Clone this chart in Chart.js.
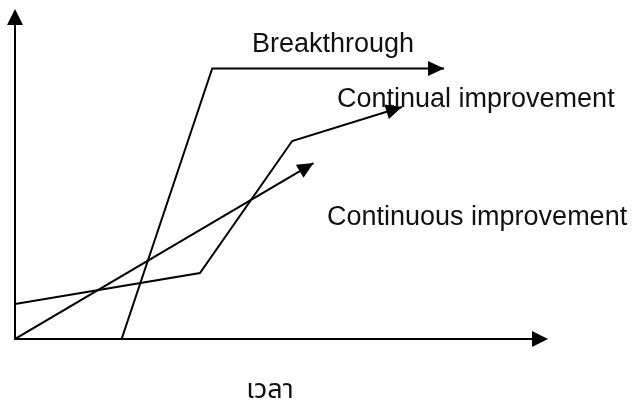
<!DOCTYPE html>
<html>
<head>
<meta charset="utf-8">
<script src="https://cdn.jsdelivr.net/npm/chart.js@4.4.0/dist/chart.umd.min.js"></script>
<style>
  html, body { margin: 0; padding: 0; background: #fff; }
  #wrap { width: 640px; height: 405px; }
</style>
</head>
<body>
<div id="wrap"><canvas id="diagram"></canvas></div>
<script>
// ===== DATA (axis units: 0..100 on both axes) =====
const breakthroughX = [20, 37, 80.5];
const breakthroughY = [0, 82, 82];
const continualX = [0, 34.7, 52, 72.6];
const continualY = [10.6, 20, 60, 70.3];
const continuousX = [0, 56];
const continuousY = [0, 53.3];
const seriesLabels = ['Breakthrough', 'Continual improvement', 'Continuous improvement'];
const axisTitle = 'เวลา';

function toPoints(xs, ys) {
  return xs.map((x, i) => ({ x: x, y: ys[i] }));
}

// ===== ARROWHEAD =====
function arrowHead(ctx, fx, fy, tx, ty, len, half) {
  const ang = Math.atan2(ty - fy, tx - fx);
  const bx = tx - len * Math.cos(ang);
  const by = ty - len * Math.sin(ang);
  ctx.beginPath();
  ctx.moveTo(tx, ty);
  ctx.lineTo(bx + half * Math.sin(ang), by - half * Math.cos(ang));
  ctx.lineTo(bx - half * Math.sin(ang), by + half * Math.cos(ang));
  ctx.closePath();
  ctx.fill();
}

// ===== AXES, ARROWS AND LABELS =====
const diagramPlugin = {
  id: 'diagram',
  afterDatasetsDraw(chart) {
    const ctx = chart.ctx;
    const xs = chart.scales.x;
    const ys = chart.scales.y;
    const ox = xs.getPixelForValue(0);
    const oy = ys.getPixelForValue(0);
    const xEnd = xs.getPixelForValue(100);
    const yEnd = ys.getPixelForValue(100);

    ctx.save();
    ctx.strokeStyle = '#000';
    ctx.fillStyle = '#000';
    ctx.lineWidth = 2;

    // axes
    ctx.beginPath();
    ctx.moveTo(ox, yEnd + 14);
    ctx.lineTo(ox, oy);
    ctx.lineTo(xEnd - 14, oy);
    ctx.stroke();
    arrowHead(ctx, ox, oy, ox, yEnd, 16, 8);
    arrowHead(ctx, ox, oy, xEnd, oy, 16, 8);

    // arrowheads on each series end
    chart.data.datasets.forEach(ds => {
      const pts = ds.data;
      const a = pts[pts.length - 2];
      const b = pts[pts.length - 1];
      arrowHead(ctx,
        xs.getPixelForValue(a.x), ys.getPixelForValue(a.y),
        xs.getPixelForValue(b.x), ys.getPixelForValue(b.y), 16, 7.5);
    });

    // labels
    ctx.font = '27px "Liberation Sans", Arial, sans-serif';
    ctx.textBaseline = 'alphabetic';
    ctx.textAlign = 'left';
    ctx.fillStyle = '#111';
    ctx.fillText(seriesLabels[0], 252, 52);
    ctx.fillText(seriesLabels[1], 337, 107);
    ctx.fillText(seriesLabels[2], 327, 225);

    ctx.font = '27px "Noto Sans Thai", "Noto Sans", "DejaVu Sans", sans-serif';
    ctx.textAlign = 'center';
    ctx.fillText(axisTitle, 270, 398);
    ctx.restore();
  }
};

const lineStyle = {
  borderColor: '#000',
  borderWidth: 2,
  pointRadius: 0,
  pointHoverRadius: 0,
  showLine: true,
  fill: false,
  tension: 0
};

new Chart(document.getElementById('diagram'), {
  type: 'scatter',
  data: {
    datasets: [
      Object.assign({ label: seriesLabels[0], data: toPoints(breakthroughX, breakthroughY) }, lineStyle),
      Object.assign({ label: seriesLabels[1], data: toPoints(continualX, continualY) }, lineStyle),
      Object.assign({ label: seriesLabels[2], data: toPoints(continuousX, continuousY) }, lineStyle)
    ]
  },
  options: {
    responsive: true,
    maintainAspectRatio: false,
    animation: false,
    layout: { padding: { left: 15, right: 92, top: 9, bottom: 66 } },
    plugins: { legend: { display: false }, tooltip: { enabled: false } },
    scales: {
      x: { type: 'linear', min: 0, max: 100, display: false },
      y: { type: 'linear', min: 0, max: 100, display: false }
    }
  },
  plugins: [diagramPlugin]
});
</script>
</body>
</html>
